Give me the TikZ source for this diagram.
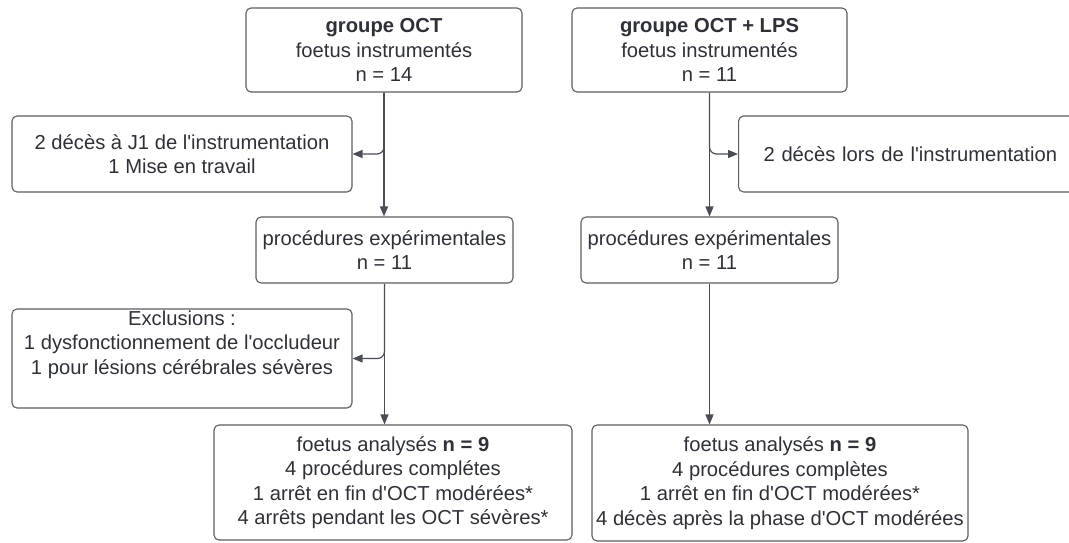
\documentclass[tikz,border=0pt]{standalone}
\usepackage{fontspec}
\setmainfont{Liberation Sans}[Ligatures=TeXOff]
\usetikzlibrary{arrows.meta}
\definecolor{ink}{HTML}{2E3138}
\definecolor{edgegray}{HTML}{5A5D63}
\definecolor{wire}{HTML}{4A4D55}
\tikzset{
 box/.style={draw=edgegray, line width=1.1pt, rounded corners=5pt, fill=white, text=ink, align=center, inner sep=0pt, font=\fontsize{20.2}{24.5}\selectfont},
 flow/.style={draw=wire, line width=1.2pt, -{Triangle[length=10pt,width=8pt]}},
 branch/.style={flow, rounded corners=7pt},
}
\begin{document}
\begin{tikzpicture}[x=1pt,y=-1pt]
\useasboundingbox (0,0) rectangle (1069,543);
\clip (0,0) rectangle (1069,543);
\node[box, minimum width=276pt, minimum height=84pt] (b1) at (384,50) {\textbf{groupe OCT}\\foetus instrumentés\\n = 14};
\node[box, minimum width=275pt, minimum height=84pt] (b2) at (709.5,50) {\textbf{groupe OCT + LPS}\\foetus instrumentés\\n = 11};
\node[box, minimum width=340pt, minimum height=76pt] (b3) at (182,154) {2 décès à J1 de l'instrumentation\\1 Mise en travail};
\node[box, anchor=west, minimum height=76pt, inner xsep=25pt, text width=320pt, align=left] (b4) at (738,154) {2 décès lors de l'instrumentation};
\node[box, minimum width=257pt, minimum height=66pt] (b5) at (384.5,250) {procédures expérimentales\\n = 11};
\node[box, minimum width=257pt, minimum height=66pt] (b6) at (709.5,250) {procédures expérimentales\\n = 11};
\node[box, minimum width=340pt, minimum height=99pt] (b7) at (182,358.5) {Exclusions :\\1 dysfonctionnement de l'occludeur\\1 pour lésions cérébrales sévères\\\strut};
\node[box, minimum width=358pt, minimum height=115pt] (b8) at (393,482.5) {foetus analysés \textbf{n = 9}\\4 procédures complétes\\1 arrêt en fin d'OCT modérées*\\4 arrêts pendant les OCT sévères*};
\node[box, minimum width=376pt, minimum height=116pt] (b9) at (780,483) {foetus analysés \textbf{n = 9}\\4 procédures complètes\\1 arrêt en fin d'OCT modérées*\\4 décès après la phase d'OCT modérées};
\draw[flow] (b1.south) -- (b1.south |- b5.north);
\draw[branch] (b1.south) |- (b3.east);
\draw[flow] (b2.south) -- (b2.south |- b6.north);
\draw[branch] (b2.south) |- (b4.west);
\draw[flow] (b5.south) -- (b5.south |- b8.north);
\draw[branch] (b5.south) |- (b7.east);
\draw[flow] (b6.south) -- (b6.south |- b9.north);
\end{tikzpicture}
\end{document}
